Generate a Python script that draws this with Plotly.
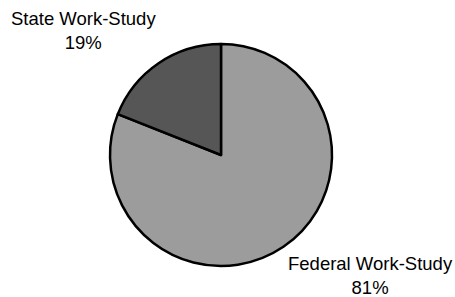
import plotly.graph_objects as go

categories = ["Federal Work-Study", "State Work-Study"]
shares = [81, 19]
colors = ["#9c9c9c", "#565656"]

W, H = 455, 297
cx, cy, r = 221, 155, 111

fig = go.Figure(go.Pie(
    labels=categories,
    values=shares,
    sort=False,
    direction="clockwise",
    rotation=0,
    textinfo="none",
    hoverinfo="label+percent",
    marker=dict(colors=colors, line=dict(color="black", width=2.5)),
    domain=dict(x=[(cx - r) / W, (cx + r) / W], y=[(H - cy - r) / H, (H - cy + r) / H]),
    showlegend=False,
))

label_pos = [(370, 275), (83, 31)]
for cat, val, (px, py) in zip(categories, shares, label_pos):
    fig.add_annotation(
        x=px / W, y=(H - py) / H, xref="paper", yref="paper",
        text=f"{cat}<br>{val}%", showarrow=False,
        xanchor="center", yanchor="middle", align="center",
        font=dict(family="Liberation Sans, Arial, sans-serif", size=18.5, color="black"),
    )

fig.update_layout(
    width=W, height=H,
    margin=dict(l=0, r=0, t=0, b=0),
    paper_bgcolor="white",
    plot_bgcolor="white",
)

fig.write_html(
    "out.html",
    config={"displayModeBar": False},
    post_script="document.body.style.margin='0';document.body.style.overflow='hidden';",
)
